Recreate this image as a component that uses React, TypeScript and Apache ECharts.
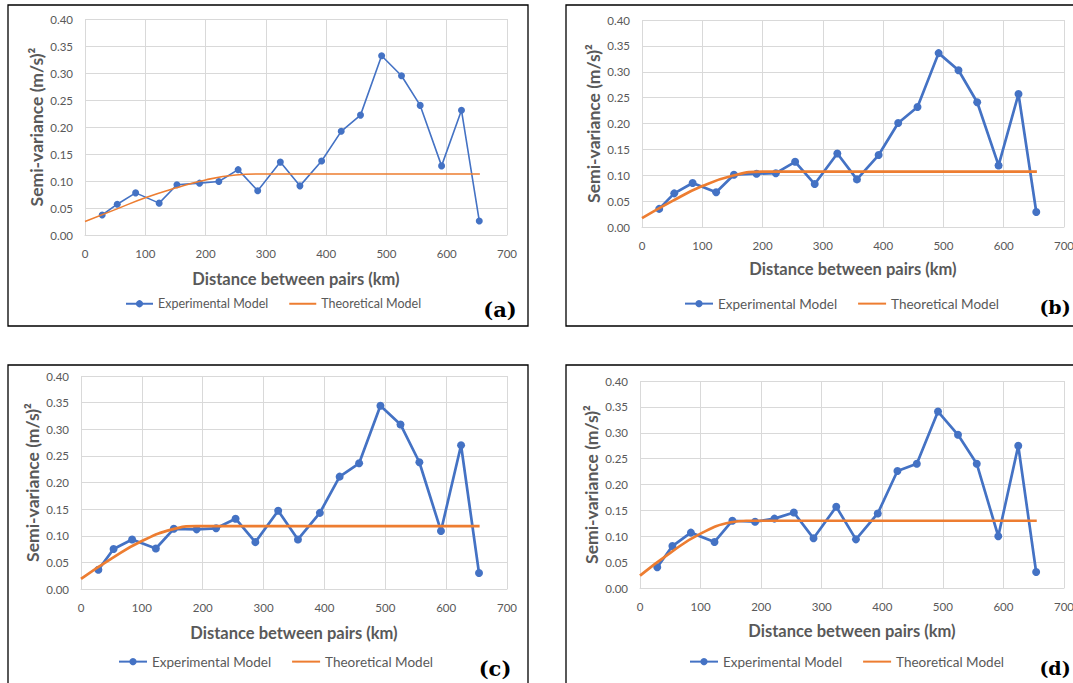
import React, { useEffect, useRef } from "react";
import * as echarts from "echarts";

// ---- Data ----
const lags = [28.5, 53.5, 84, 123, 152.5, 190, 222, 254, 286.5, 324, 356.5, 392.5, 425, 457, 492, 525, 556, 591.5, 624.5, 654];

const expA = [0.037, 0.057, 0.078, 0.059, 0.093, 0.096, 0.099, 0.121, 0.082, 0.135, 0.091, 0.137, 0.192, 0.222, 0.332, 0.295, 0.240, 0.128, 0.231, 0.026];
const expB = [0.035, 0.065, 0.085, 0.067, 0.101, 0.103, 0.104, 0.126, 0.083, 0.142, 0.092, 0.139, 0.201, 0.232, 0.336, 0.303, 0.241, 0.119, 0.257, 0.029];
const expC = [0.036, 0.075, 0.093, 0.076, 0.113, 0.112, 0.114, 0.132, 0.088, 0.147, 0.093, 0.143, 0.211, 0.236, 0.344, 0.309, 0.238, 0.109, 0.270, 0.030];
const expD = [0.040, 0.081, 0.107, 0.089, 0.130, 0.128, 0.134, 0.146, 0.096, 0.157, 0.094, 0.144, 0.226, 0.240, 0.341, 0.296, 0.240, 0.100, 0.275, 0.031];

const theoXA = [0, 50, 100, 150, 200, 250, 290, 655];
const theoA = [0.025, 0.047, 0.069, 0.087, 0.102, 0.111, 0.113, 0.113];
const theoXB = [0, 50, 100, 150, 200, 655];
const theoB = [0.017, 0.050, 0.079, 0.099, 0.107, 0.107];
const theoXC = [0, 50, 100, 150, 190, 655];
const theoC = [0.019, 0.057, 0.090, 0.112, 0.118, 0.118];
const theoXD = [0, 50, 100, 150, 175, 655];
const theoD = [0.024, 0.068, 0.105, 0.127, 0.130, 0.130];

const seriesNames = ["Experimental Model", "Theoretical Model"];
const panelLabels = ["(a)", "(b)", "(c)", "(d)"];
const xTitle = "Distance between pairs (km)";
const yTitle = "Semi-variance (m/s)\u00B2";
const xMin = 0, xMax = 700, xStep = 100;
const yMin = 0, yMax = 0.4, yStep = 0.05;

const expSets = [expA, expB, expC, expD];
const theoSets = [[theoXA, theoA], [theoXB, theoB], [theoXC, theoC], [theoXD, theoD]];

// ---- Layout / style ----
const FONT = "Lato, 'Liberation Sans', sans-serif";
const GRAY = "#595959";
const GRID = "#D9D9D9";
const BLUE = "#4472C4";
const ORANGE = "#ED7D31";

const panels = [
  { grid: { left: 85, top: 19, width: 422, height: 216 }, lw: 1.6, sym: 7, xGap: 35,
    legend: { left: 125, y: 305, iw: 27, fs: 12.5 }, label: { x: 500, y: 309, fs: 21 }, box: { x: 8, y: 5, w: 520, h: 321 } },
  { grid: { left: 642, top: 20, width: 422, height: 207 }, lw: 2.7, sym: 8, xGap: 33,
    legend: { left: 684, y: 305, iw: 28, fs: 13.5 }, label: { x: 1055, y: 307, fs: 19 }, box: { x: 566, y: 5, w: 530, h: 321 } },
  { grid: { left: 81, top: 376, width: 426, height: 213 }, lw: 2.7, sym: 8, xGap: 35,
    legend: { left: 118, y: 663, iw: 28, fs: 13.5 }, label: { x: 495, y: 668, fs: 21 }, box: { x: 8, y: 365, w: 520, h: 340 } },
  { grid: { left: 640, top: 381, width: 424, height: 207 }, lw: 2.7, sym: 8, xGap: 34,
    legend: { left: 689, y: 663, iw: 28, fs: 13.5 }, label: { x: 1055, y: 668, fs: 19 }, box: { x: 566, y: 365, w: 530, h: 340 } },
];

function buildOption() {
  const grid: any[] = [];
  const xAxis: any[] = [];
  const yAxis: any[] = [];
  const legend: any[] = [];
  const series: any[] = [];
  const graphic: any[] = [];

  panels.forEach((p, i) => {
    grid.push({ ...p.grid, containLabel: false, outerBoundsMode: "none" });
    xAxis.push({
      type: "value", gridIndex: i, min: xMin, max: xMax, interval: xStep,
      name: xTitle, nameLocation: "middle", nameGap: p.xGap,
      nameTextStyle: { fontFamily: FONT, fontWeight: "bold", fontSize: 16.5, color: GRAY },
      axisLine: { show: true, lineStyle: { color: GRID, width: 1 } },
      axisTick: { show: false },
      axisLabel: { fontFamily: FONT, fontSize: 11.5, color: GRAY, margin: 12 },
      splitLine: { show: true, lineStyle: { color: GRID, width: 1 } },
    });
    yAxis.push({
      type: "value", gridIndex: i, min: yMin, max: yMax, interval: yStep,
      name: yTitle, nameLocation: "middle", nameGap: 40, nameRotate: 90,
      nameTextStyle: { fontFamily: FONT, fontWeight: "bold", fontSize: 17.5, color: GRAY },
      axisLine: { show: false },
      axisTick: { show: false },
      axisLabel: { fontFamily: FONT, fontSize: 11.5, color: GRAY, margin: 12, formatter: (v: number) => v.toFixed(2) },
      splitLine: { show: true, lineStyle: { color: GRID, width: 1 } },
    });
    legend.push({
      left: p.legend.left, top: p.legend.y - p.legend.fs * 0.62, padding: 0,
      itemWidth: p.legend.iw, itemHeight: 9, itemGap: 20, orient: "horizontal",
      textStyle: { fontFamily: FONT, fontSize: p.legend.fs, color: GRAY },
      data: [
        { name: seriesNames[0] },
        { name: seriesNames[1], itemStyle: { color: "rgba(0,0,0,0)", opacity: 0, borderWidth: 0 } },
      ],
    });
    series.push({
      name: seriesNames[0], type: "line", xAxisIndex: i, yAxisIndex: i,
      data: lags.map((x, k) => [x, expSets[i][k]]),
      symbol: "circle", symbolSize: p.sym,
      lineStyle: { color: BLUE, width: p.lw }, itemStyle: { color: BLUE },
      z: 2,
    });
    const [tx, ty] = theoSets[i];
    series.push({
      name: seriesNames[1], type: "line", xAxisIndex: i, yAxisIndex: i,
      data: tx.map((x, k) => [x, ty[k]]),
      symbol: "none", smooth: true,
      lineStyle: { color: ORANGE, width: p.lw }, itemStyle: { color: ORANGE },
      z: 3,
    });
    graphic.push({
      type: "rect", shape: { x: p.box.x, y: p.box.y, width: p.box.w, height: p.box.h },
      style: { fill: "none", stroke: "#000", lineWidth: 1.3 }, silent: true,
    });
    graphic.push({
      type: "text", x: p.label.x, y: p.label.y,
      style: { text: panelLabels[i], fontFamily: "'DejaVu Serif', serif", fontWeight: "bold", fontSize: p.label.fs,
        fill: "#000", align: "center", verticalAlign: "middle" },
    });
  });

  return { animation: false, backgroundColor: "#fff", grid, xAxis, yAxis, legend, series, graphic };
}

export default function App() {
  const ref = useRef<HTMLDivElement>(null);
  useEffect(() => {
    const chart = echarts.init(ref.current!, null, { renderer: "svg" });
    chart.setOption(buildOption() as any);
    return () => chart.dispose();
  }, []);
  return (
    <div
      ref={ref}
      style={{ position: "absolute", left: 0, top: 0, width: 1073, height: 683, background: "#fff" }}
    />
  );
}
